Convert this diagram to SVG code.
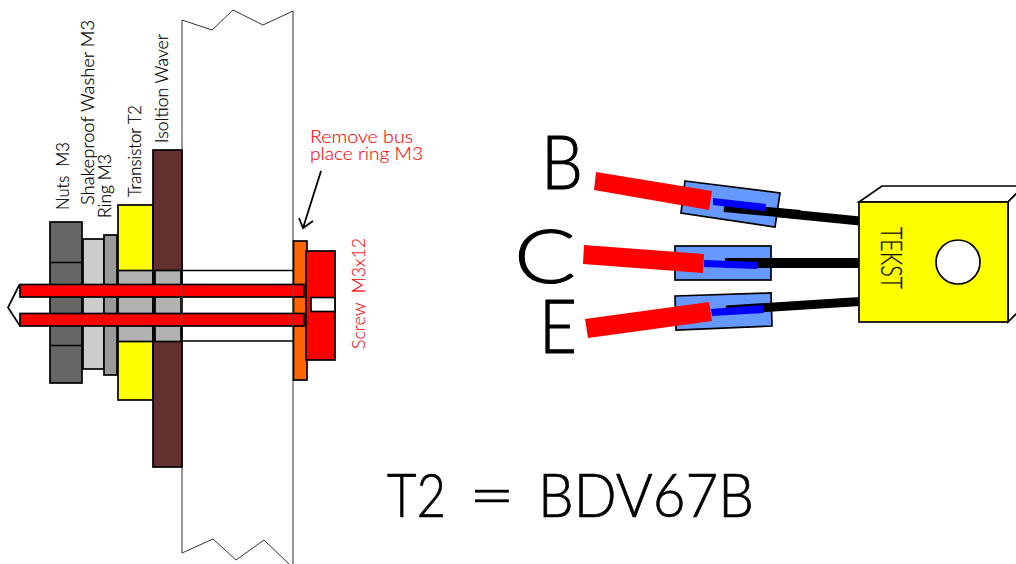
<svg xmlns="http://www.w3.org/2000/svg" width="1016" height="564" viewBox="0 0 1016 564">
<style>
text{font-family:"Lato","Liberation Sans",sans-serif;font-weight:300}
.k{stroke:#000;stroke-width:1.7}
.red{fill:#f00}
.lab{font-size:18px;fill:#000;stroke:#000;stroke-width:.2}
.rl{font-size:18px;fill:#f00;stroke:#f00;stroke-width:.1}
.big{font-size:74px;fill:#000;stroke:#000;stroke-width:.9}
.huge{font-size:62px;fill:#000;stroke:#000;stroke-width:.7}
</style>
<rect width="1016" height="564" fill="#fff"/>
<g id="board"><path d="M182 20L212 30L233 10L263 25L293 11V570H293L288 563L264 540L236 560L213 539L183 553L182 553Z" fill="#fff" stroke="none"/><path d="M293 11L263 25L233 10L212 30L182 20V553L213 539L236 560L264 540L289 564M293 11V564" fill="none" stroke="#333" stroke-width="1"/></g>
<g id="nuts"><rect x="50" y="222" width="32" height="161" fill="#666" class="k"/><path d="M50 262.500H82M50 345.500H82" class="k" fill="none"/></g>
<g id="washer"><rect x="83" y="239" width="21" height="130" fill="#ccc" class="k"/></g>
<g id="ring"><rect x="104" y="235" width="13" height="140" fill="#999" class="k"/></g>
<g id="transistor"><rect x="118" y="205" width="35" height="195" fill="#ff0" class="k"/><rect x="118" y="270.500" width="35" height="71" fill="#b2b2b2" class="k"/></g>
<g id="wafer"><rect x="153" y="150" width="29" height="317" fill="#632f2f" class="k"/><rect x="155" y="270.500" width="26" height="71" fill="#b2b2b2" class="k"/></g>
<g id="sleeve"><path d="M182 270.500H293M182 341H293" stroke="#000" stroke-width="1.700" fill="none"/></g>
<g id="orange"><rect x="293.500" y="241" width="13.500" height="139" fill="#f60" class="k"/></g>
<g id="screw"><rect x="306" y="251" width="29" height="109" class="k red"/><rect x="311" y="297.500" width="24" height="14" fill="#fff" class="k"/>
<path d="M19.500 284.500L8 307.500L20 326" fill="#fff" class="k"/>
<rect x="20" y="284.500" width="284" height="12.500" class="k red"/><rect x="20" y="313.500" width="284" height="12.500" class="k red"/>
<path d="M182 284V326M293 284V326" stroke="#555" stroke-width="0.800"/></g>
<g id="connectors"><path d="M321 171L303 228M299 218L303 228L313 221" fill="none" stroke="#000" stroke-width="1.800"/></g>
<g id="labels">
<text class="lab" transform="translate(69 210) rotate(-90)" textLength="68" lengthAdjust="spacingAndGlyphs" xml:space="preserve">Nuts  M3</text>
<text class="lab" transform="translate(94 205) rotate(-90)" textLength="185" lengthAdjust="spacingAndGlyphs">Shakeproof Washer M3</text>
<text class="lab" transform="translate(111 218) rotate(-90)" textLength="64" lengthAdjust="spacingAndGlyphs">Ring M3</text>
<text class="lab" transform="translate(141 197) rotate(-90)" textLength="92" lengthAdjust="spacingAndGlyphs">Transistor T2</text>
<text class="lab" transform="translate(168 143) rotate(-90)" textLength="109" lengthAdjust="spacingAndGlyphs">Isoltion Waver</text>
<text class="rl" x="310" y="143" textLength="103" lengthAdjust="spacingAndGlyphs">Remove bus</text>
<text class="rl" x="310" y="160" textLength="113" lengthAdjust="spacingAndGlyphs">place ring M3</text>
<text class="rl" transform="translate(365 349) rotate(-90)" textLength="111" lengthAdjust="spacingAndGlyphs" xml:space="preserve">Screw  M3x12</text>
</g>
<g id="pin-b"><path d="M724 207.500L860 221" stroke="#000" stroke-width="9" fill="none"/><path d="M685 181L780 193L775 227L681 213Z" fill="#69f" class="k"/><path d="M724 207.500L800 214.500" stroke="#000" stroke-width="9" fill="none"/><path d="M713 198L766 204L765 211L713 205Z" fill="#00f"/><path d="M596 172L712 191L709 210L594 190Z" fill="#f00"/></g>
<g id="pin-c"><rect x="675" y="246" width="96" height="34" fill="#69f" class="k"/><rect x="725" y="258" width="135" height="10" fill="#000"/><path d="M704 260L758 262L757 269L704 267Z" fill="#00f"/><path d="M584 245L704 254L703 273L583 264Z" fill="#f00"/></g>
<g id="pin-e"><path d="M675 296L771 293L772 326L676 330Z" fill="#69f" class="k"/><path d="M726 310L860 301.500" stroke="#000" stroke-width="9" fill="none"/><path d="M711 309L763 305L764 313L712 316Z" fill="#00f"/><path d="M585 319L709 302L712 321L588 338Z" fill="#f00"/></g>
<g id="package"><path d="M859 202L882 186H1024V186L1008 202Z" fill="#fff" class="k"/><path d="M1008 202L1024 186V306L1008 322Z" fill="#fff" class="k"/><rect x="859" y="202" width="149" height="120" fill="#ff0" class="k"/><circle cx="958" cy="262" r="22" fill="#fff" class="k"/>
<text transform="translate(881 227) rotate(90)" style="font-size:29px;fill:#000;stroke:#000;stroke-width:.2" textLength="62" lengthAdjust="spacingAndGlyphs">TEKST</text></g>
<g id="pin-labels">
<text class="big" x="541" y="189" textLength="42" lengthAdjust="spacingAndGlyphs">B</text>
<text class="big" x="514" y="283" textLength="62" lengthAdjust="spacingAndGlyphs">C</text>
<text class="big" x="539" y="353" textLength="38" lengthAdjust="spacingAndGlyphs">E</text>
<text y="517" class="huge" xml:space="preserve"><tspan x="387" textLength="59" lengthAdjust="spacingAndGlyphs">T2</tspan> <tspan x="469" textLength="46" lengthAdjust="spacingAndGlyphs">=</tspan> <tspan x="538" textLength="216" lengthAdjust="spacingAndGlyphs">BDV67B</tspan></text>
</g>
</svg>
